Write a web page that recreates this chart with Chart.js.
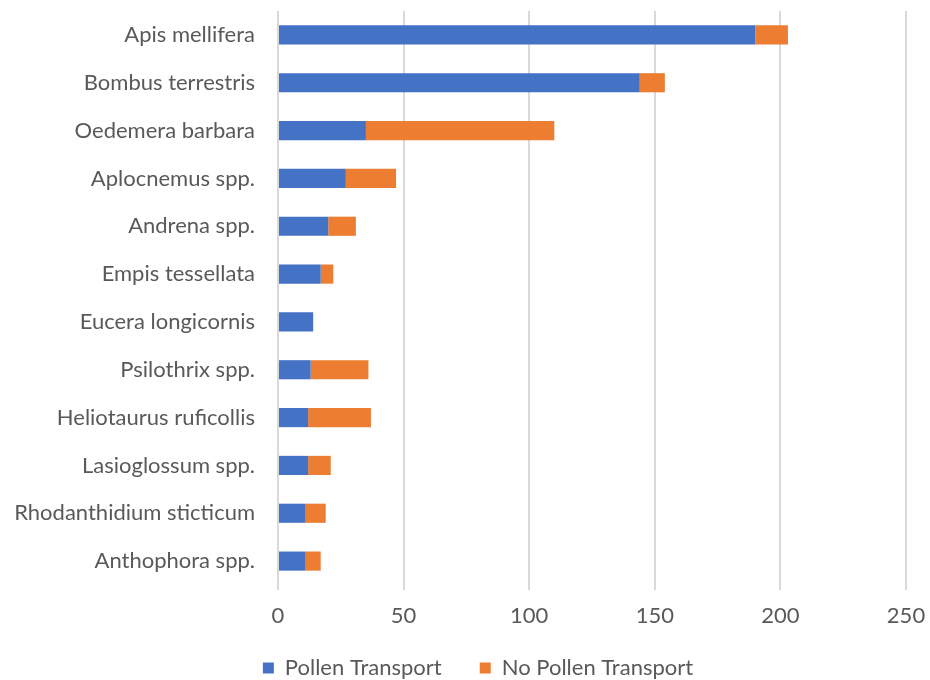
<!DOCTYPE html>
<html>
<head>
<meta charset="utf-8">
<script src="https://cdn.jsdelivr.net/npm/chart.js@4"></script>
<style>
  html, body { margin: 0; padding: 0; background: #ffffff; }
  #wrap { width: 930px; height: 680px; position: relative; }
</style>
</head>
<body>
<div id="wrap"><canvas id="c" width="930" height="680"></canvas></div>
<script>
// Visitor species (top to bottom)
const species = [
  "Apis mellifera",
  "Bombus terrestris",
  "Oedemera barbara",
  "Aplocnemus spp.",
  "Andrena spp.",
  "Empis tessellata",
  "Eucera longicornis",
  "Psilothrix spp.",
  "Heliotaurus ruficollis",
  "Lasioglossum spp.",
  "Rhodanthidium sticticum",
  "Anthophora spp."
];

// Individuals carrying pollen
const pollenTransport = [190, 144, 35, 27, 20, 17, 14, 13, 12, 12, 11, 11];
// Individuals without pollen
const noPollenTransport = [13, 10, 75, 20, 11, 5, 0, 23, 25, 9, 8, 6];

const xTicks = [0, 50, 100, 150, 200, 250];

const FONT = "Lato, 'Open Sans', sans-serif";
const TEXT = "#595959";
const LEGEND_HEIGHT = 53;
const LEGEND_SHIFT_X = 25;
const LEGEND_RAISE = 8;

// Fixed-height legend strip with wide item spacing, nudged into place
const legendLayout = {
  id: "legendLayout",
  beforeUpdate(chart) {
    const lg = chart.legend;
    if (lg && !lg._fixedHeight) {
      const fit = lg.fit.bind(lg);
      lg.fit = function () { fit(); this.height = LEGEND_HEIGHT; };
      lg._fixedHeight = true;
    }
  },
  afterLayout(chart) {
    const lg = chart.legend;
    if (lg) {
      lg.left += LEGEND_SHIFT_X; lg.right += LEGEND_SHIFT_X;
      lg.top -= LEGEND_RAISE; lg.height += LEGEND_RAISE;
    }
  }
};

new Chart(document.getElementById("c"), {
  type: "bar",
  data: {
    labels: species,
    datasets: [
      {
        label: "Pollen Transport",
        data: pollenTransport,
        backgroundColor: "#4472C4",
        barPercentage: 0.4,
        categoryPercentage: 1.0
      },
      {
        label: "No Pollen Transport",
        data: noPollenTransport,
        backgroundColor: "#ED7D31",
        barPercentage: 0.4,
        categoryPercentage: 1.0
      }
    ]
  },
  plugins: [legendLayout],
  options: {
    indexAxis: "y",
    responsive: false,
    animation: false,
    layout: { padding: { top: 11, right: 24, left: 0, bottom: 0 } },
    plugins: {
      tooltip: { enabled: false },
      legend: {
        position: "bottom",
        labels: {
          font: { family: FONT, size: 22 },
          color: TEXT,
          boxWidth: 11,
          boxHeight: 11,
          padding: 38
        }
      }
    },
    scales: {
      x: {
        stacked: true,
        min: 0,
        max: 250,
        afterBuildTicks: (s) => { s.ticks = xTicks.map(v => ({ value: v })); },
        afterFit: (s) => { s.height = 42; s.paddingLeft = 0; s.paddingRight = 0; },
        grid: { color: "#D9D9D9", lineWidth: 2, drawTicks: true, tickLength: 5 },
        border: { display: false },
        ticks: { font: { family: FONT, size: 22 }, color: TEXT, padding: 13 }
      },
      y: {
        stacked: true,
        grid: { display: false },
        border: { display: false },
        afterFit: (s) => { s.width = 278; s.paddingTop = 0; s.paddingBottom = 0; },
        ticks: { font: { family: FONT, size: 22 }, color: TEXT, padding: 15, autoSkip: false }
      }
    }
  }
});
</script>
</body>
</html>
